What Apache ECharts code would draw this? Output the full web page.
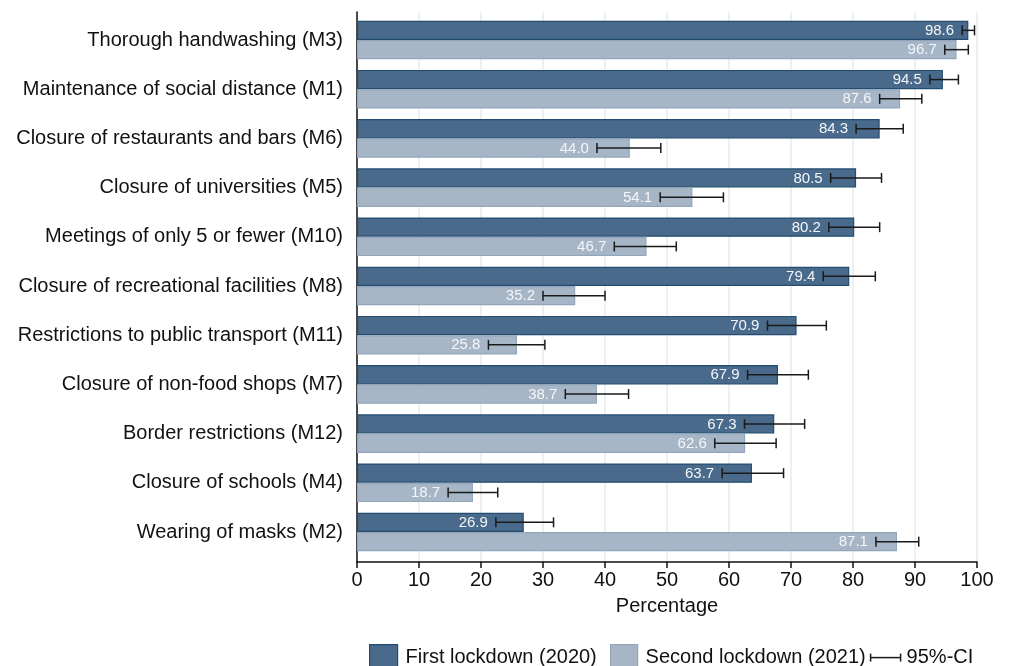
<!DOCTYPE html>
<html>
<head>
<meta charset="utf-8">
<script src="https://cdn.jsdelivr.net/npm/echarts@6/dist/echarts.min.js"></script>
<style>
  html, body { margin: 0; padding: 0; background: #fff; }
  #chart { width: 1010px; height: 666px; }
</style>
</head>
<body>
<div id="chart"></div>
<script>
// Compliance with COVID-19 measures, first vs second lockdown, with 95% CIs
const categories = [
  'Thorough handwashing (M3)',
  'Maintenance of social distance (M1)',
  'Closure of restaurants and bars (M6)',
  'Closure of universities (M5)',
  'Meetings of only 5 or fewer (M10)',
  'Closure of recreational facilities (M8)',
  'Restrictions to public transport (M11)',
  'Closure of non-food shops (M7)',
  'Border restrictions (M12)',
  'Closure of schools (M4)',
  'Wearing of masks (M2)'
];
const firstValues = [98.6, 94.5, 84.3, 80.5, 80.2, 79.4, 70.9, 67.9, 67.3, 63.7, 26.9];
const firstLow    = [97.6, 92.4, 80.5, 76.4, 76.1, 75.2, 66.2, 63.0, 62.5, 58.9, 22.4];
const firstHigh   = [99.6, 97.0, 88.1, 84.6, 84.3, 83.6, 75.7, 72.8, 72.2, 68.8, 31.7];
const secondValues = [96.7, 87.6, 44.0, 54.1, 46.7, 35.2, 25.8, 38.7, 62.6, 18.7, 87.1];
const secondLow    = [94.8, 84.3, 38.7, 48.9, 41.5, 30.0, 21.2, 33.6, 57.7, 14.7, 83.7];
const secondHigh   = [98.6, 91.1, 49.0, 59.1, 51.5, 40.0, 30.3, 43.8, 67.6, 22.7, 90.6];
const xTicks = [0, 10, 20, 30, 40, 50, 60, 70, 80, 90, 100];
const seriesNames = ['First lockdown (2020)', 'Second lockdown (2021)', '95%-CI'];

const FONT = '"Liberation Sans", Arial, Helvetica, sans-serif';
const DARK = '#496a8b', DARK_EDGE = '#234c70';
const LIGHT = '#a7b6c7', LIGHT_EDGE = '#92a6bb';
const BAR_W = 19.3;

function ciData(low, high, vals) {
  return categories.map((c, i) => [i, low[i], high[i], vals[i]]);
}

// whiskers plus the value label just left of the lower bound
function makeCI(offset) {
  return function (params, api) {
    const idx = api.value(0);
    const lo = api.coord([api.value(1), idx]);
    const hi = api.coord([api.value(2), idx]);
    const y = lo[1] + offset;
    const cap = 5;
    const ls = { stroke: '#1a1a1a', lineWidth: 1.5 };
    return {
      type: 'group',
      children: [
        { type: 'line', shape: { x1: lo[0], y1: y, x2: hi[0], y2: y }, style: ls },
        { type: 'line', shape: { x1: lo[0], y1: y - cap, x2: lo[0], y2: y + cap }, style: ls },
        { type: 'line', shape: { x1: hi[0], y1: y - cap, x2: hi[0], y2: y + cap }, style: ls },
        { type: 'text', style: {
            text: api.value(3).toFixed(1), x: lo[0] - 8, y: y + 0.5,
            align: 'right', verticalAlign: 'middle',
            fill: '#f4f6f9', fontSize: 15, fontFamily: FONT } }
      ]
    };
  };
}

const chart = echarts.init(document.getElementById('chart'), null, { renderer: 'canvas' });

chart.setOption({
  backgroundColor: '#ffffff',
  animation: false,
  grid: [
    { left: 357, width: 620, top: 12, height: 550 },
    { left: 357, width: 620, top: 15.4, height: 541.2 }
  ],
  xAxis: [
    {
      gridIndex: 0, type: 'value', min: xTicks[0], max: xTicks[xTicks.length - 1], interval: 10,
      axisLine: { show: true, lineStyle: { color: '#111', width: 1.5 } },
      axisTick: { show: true, length: 6, lineStyle: { color: '#111', width: 1.5 } },
      axisLabel: { fontSize: 20, fontFamily: FONT, color: '#111', margin: 8 },
      splitLine: { show: true, lineStyle: { color: '#e3edf2', width: 1.5 } },
      name: 'Percentage', nameLocation: 'middle', nameGap: 34,
      nameTextStyle: { fontSize: 20, fontFamily: FONT, color: '#111' }
    },
    {
      gridIndex: 1, type: 'value', min: 0, max: 100, show: false
    }
  ],
  yAxis: [
    {
      gridIndex: 0, type: 'value', min: 0, max: 1,
      axisLine: { show: true, lineStyle: { color: '#111', width: 1.5 } },
      axisTick: { show: false }, axisLabel: { show: false }, splitLine: { show: false }
    },
    {
      gridIndex: 1, type: 'category', data: categories, inverse: true,
      axisLine: { show: false }, axisTick: { show: false }, splitLine: { show: false },
      axisLabel: { fontSize: 20, fontFamily: FONT, color: '#111', margin: 14 }
    }
  ],
  series: [
    {
      name: seriesNames[0], type: 'bar', xAxisIndex: 1, yAxisIndex: 1,
      data: firstValues, barWidth: BAR_W, barGap: '0%',
      itemStyle: { color: DARK, borderColor: DARK_EDGE, borderWidth: 1.2 }
    },
    {
      name: seriesNames[1], type: 'bar', xAxisIndex: 1, yAxisIndex: 1,
      data: secondValues, barWidth: BAR_W, barGap: '0%',
      itemStyle: { color: LIGHT, borderColor: LIGHT_EDGE, borderWidth: 1.2 }
    },
    {
      name: seriesNames[2], type: 'custom', xAxisIndex: 1, yAxisIndex: 1,
      renderItem: makeCI(-BAR_W / 2), data: ciData(firstLow, firstHigh, firstValues),
      encode: { x: [1, 2], y: 0 }, clip: false, z: 5
    },
    {
      name: seriesNames[2], type: 'custom', xAxisIndex: 1, yAxisIndex: 1,
      renderItem: makeCI(BAR_W / 2), data: ciData(secondLow, secondHigh, secondValues),
      encode: { x: [1, 2], y: 0 }, clip: false, z: 5
    }
  ],
  graphic: [
    {
      type: 'group', left: 369, top: 644,
      children: [
        { type: 'rect', shape: { x: 0, y: 0, width: 28, height: 26 },
          style: { fill: DARK, stroke: DARK_EDGE, lineWidth: 1.2 } },
        { type: 'text', style: { text: seriesNames[0], x: 36, y: 13, verticalAlign: 'middle',
          fontSize: 20, fontFamily: FONT, fill: '#111' } },
        { type: 'rect', shape: { x: 241, y: 0, width: 27, height: 26 },
          style: { fill: LIGHT, stroke: LIGHT_EDGE, lineWidth: 1.2 } },
        { type: 'text', style: { text: seriesNames[1], x: 276, y: 13, verticalAlign: 'middle',
          fontSize: 20, fontFamily: FONT, fill: '#111' } },
        { type: 'line', shape: { x1: 501, y1: 13, x2: 531, y2: 13 }, style: { stroke: '#1a1a1a', lineWidth: 1.5 } },
        { type: 'line', shape: { x1: 501, y1: 9, x2: 501, y2: 17 }, style: { stroke: '#1a1a1a', lineWidth: 1.5 } },
        { type: 'line', shape: { x1: 531, y1: 9, x2: 531, y2: 17 }, style: { stroke: '#1a1a1a', lineWidth: 1.5 } },
        { type: 'text', style: { text: seriesNames[2], x: 537, y: 13, verticalAlign: 'middle',
          fontSize: 20, fontFamily: FONT, fill: '#111' } }
      ]
    }
  ]
});
</script>
</body>
</html>
